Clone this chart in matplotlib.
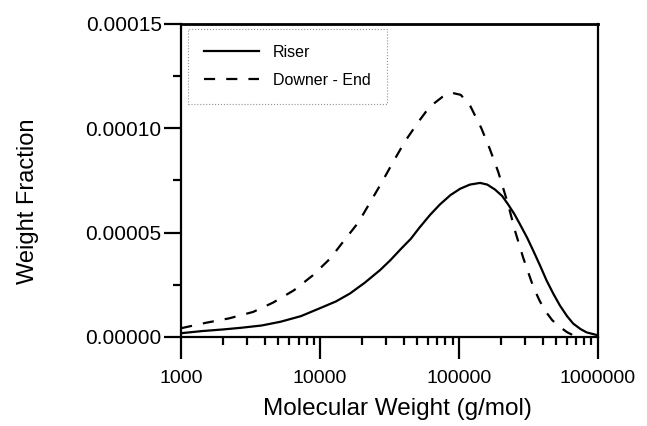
import numpy as np
import matplotlib.pyplot as plt
from matplotlib.ticker import FixedLocator, LogLocator, NullFormatter, FixedFormatter

plt.rcParams['font.family'] = ['Liberation Sans', 'DejaVu Sans']

# ======== DATA ========
mw_riser = [1000, 1400, 2000, 2700, 3800, 5200, 7300, 10000, 13000, 16400, 21000,
            27000, 32000, 38000, 45000, 52000, 62000, 73000, 87000, 102000, 120000,
            142000, 160000, 182000, 205000, 226000, 250000, 275000, 310000, 343000,
            385000, 428000, 480000, 533000, 600000, 665000, 750000, 830000, 1000000]
wf_riser = [1.8e-6, 2.8e-6, 3.6e-6, 4.4e-6, 5.5e-6, 7.3e-6, 1.0e-5, 1.38e-5, 1.7e-5, 2.08e-5, 2.6e-5,
            3.2e-5, 3.67e-5, 4.2e-5, 4.7e-5, 5.24e-5, 5.85e-5, 6.35e-5, 6.8e-5, 7.1e-5, 7.3e-5,
            7.38e-5, 7.3e-5, 7.06e-5, 6.75e-5, 6.35e-5, 5.9e-5, 5.4e-5, 4.75e-5, 4.13e-5,
            3.4e-5, 2.7e-5, 2.05e-5, 1.51e-5, 1.0e-5, 6.4e-6, 3.8e-6, 2.2e-6, 8e-7]

mw_downer = [1000, 1510, 2210, 3300, 4600, 6500, 8900, 11800, 14700, 18900, 22900,
             27800, 33700, 40900, 51000, 58000, 65300, 76000, 88500, 103000, 120000,
             145000, 167000, 192000, 226000, 253000, 290000, 343000, 380000, 416000,
             470000, 533000, 600000, 665000, 750000]
wf_downer = [4.2e-6, 6.8e-6, 8.9e-6, 1.2e-5, 1.65e-5, 2.24e-5, 2.96e-5, 3.75e-5, 4.57e-5, 5.49e-5, 6.44e-5,
             7.4e-5, 8.4e-5, 9.37e-5, 1.03e-4, 1.08e-4, 1.116e-4, 1.15e-4, 1.17e-4, 1.16e-4, 1.11e-4,
             1.0e-4, 9.0e-5, 7.9e-5, 6.35e-5, 5.1e-5, 3.8e-5, 2.4e-5, 1.75e-5, 1.27e-5,
             8e-6, 4.8e-6, 2.3e-6, 8e-7, 1e-7]

labels = ['Riser', 'Downer - End']
x_ticks = [1000, 10000, 100000, 1000000]
y_ticks = [0.0, 0.00005, 0.00010, 0.00015]

# ======== PLOT ========
fig = plt.figure(figsize=(6.47, 4.26), dpi=100)
ax = fig.add_axes([0.28, 0.209, 0.644, 0.735])

ax.plot(mw_riser, wf_riser, color='black', lw=1.6, label=labels[0])
ax.plot(mw_downer, wf_downer, color='black', lw=1.6, ls=(0, (5, 5)), label=labels[1])

ax.set_xscale('log')
ax.set_xlim(1000, 1000000)
ax.set_ylim(0, 0.00015)

ax.xaxis.set_major_locator(FixedLocator(x_ticks))
ax.xaxis.set_major_formatter(FixedFormatter([str(v) for v in x_ticks]))
ax.xaxis.set_minor_locator(LogLocator(base=10, subs=np.arange(2, 10)))
ax.xaxis.set_minor_formatter(NullFormatter())

ax.yaxis.set_major_locator(FixedLocator(y_ticks))
ax.yaxis.set_major_formatter(FixedFormatter([f'{v:.5f}' for v in y_ticks]))
ax.yaxis.set_minor_locator(FixedLocator([0.000025, 0.000075, 0.000125]))

ax.tick_params(axis='both', which='major', direction='out', width=1.6)
ax.tick_params(axis='x', which='major', length=16, pad=8, labelsize=14)
ax.tick_params(axis='x', which='minor', direction='out', length=6, width=1.6)
ax.tick_params(axis='y', which='major', length=12, pad=2, labelsize=15)
ax.tick_params(axis='y', which='minor', direction='out', length=6, width=1.6)

for side in ['left', 'bottom', 'right']:
    ax.spines[side].set_linewidth(1.6)
ax.spines['top'].set_linewidth(2.0)

ax.set_xlabel('Molecular Weight (g/mol)', fontsize=17.5)
ax.set_ylabel('Weight Fraction', fontsize=17)
ax.xaxis.set_label_coords(0.52, -0.195)
ax.yaxis.set_label_coords(-0.34, 0.435)

leg = ax.legend(loc='upper left', fontsize=11.5, frameon=True, fancybox=False,
                handlelength=3.4, handletextpad=0.9, borderpad=1.0, labelspacing=0.8,
                borderaxespad=0, bbox_to_anchor=(0.017, 0.984))
leg.get_frame().set_edgecolor('#777777')
leg.get_frame().set_linestyle(':')
leg.get_frame().set_linewidth(0.8)

fig.savefig('out.png', dpi=100)
